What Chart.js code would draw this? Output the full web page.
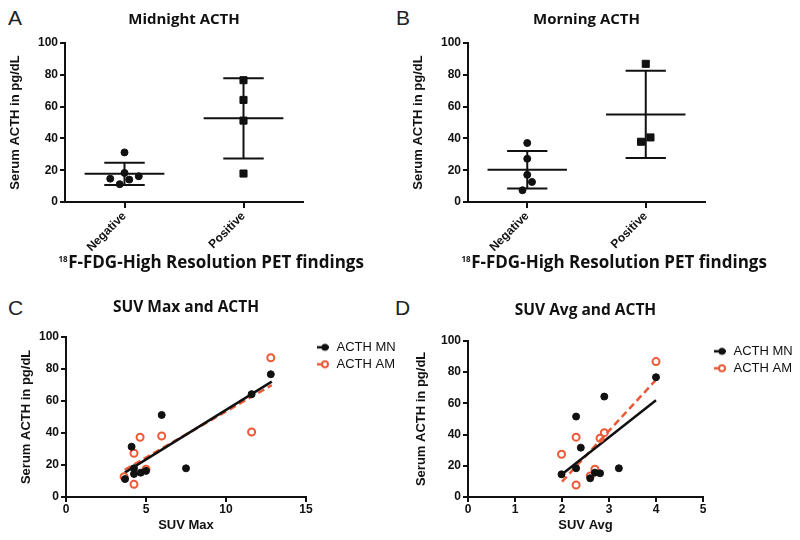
<!DOCTYPE html>
<html>
<head>
<meta charset="utf-8">
<script src="https://cdn.jsdelivr.net/npm/chart.js@4.4.1/dist/chart.umd.min.js"></script>
<style>
  body { margin: 0; background: #fff; width: 800px; height: 540px; position: relative; overflow: hidden; }
  .panel { position: absolute; }
  .letter { position: absolute; font: 21px/21px "Liberation Sans", Arial, sans-serif; color: #222; }
</style>
</head>
<body>
<div class="letter" style="left:8px;top:7px">A</div>
<div class="letter" style="left:396px;top:7px">B</div>
<div class="letter" style="left:8px;top:297px">C</div>
<div class="letter" style="left:395px;top:297px">D</div>

<canvas id="chartA" class="panel" width="400" height="280" style="left:0;top:0"></canvas>
<canvas id="chartB" class="panel" width="400" height="280" style="left:400px;top:0"></canvas>
<canvas id="chartC" class="panel" width="400" height="260" style="left:0;top:280px"></canvas>
<canvas id="chartD" class="panel" width="400" height="260" style="left:400px;top:280px"></canvas>

<script>
const groups = ["Negative", "Positive"];
const yTicks = [0, 20, 40, 60, 80, 100];
const suvMaxTicks = [0, 5, 10, 15];
const suvAvgTicks = [0, 1, 2, 3, 4, 5];
const seriesNames = ["ACTH MN", "ACTH AM"];
const petIsotope = "18";
const petLabel = "F-FDG-High Resolution PET findings";

// A - midnight ACTH (pg/dL) by PET finding
const midnightNeg = [31.2, 18.3, 16.2, 14.7, 14.1, 11.2];
const midnightNegJitter = [0, 0, 0.12, -0.12, 0.04, -0.04];
const midnightPos = [76.6, 64.2, 51.2, 17.9];
const midnightPosJitter = [0, 0, 0, 0];
const midnightMean = [17.7, 52.6];
const midnightSD = [7.0, 25.2];

// B - morning ACTH
const morningNeg = [37.1, 27.2, 17.1, 12.6, 7.4];
const morningNegJitter = [0, 0, 0, 0.04, -0.04];
const morningPos = [86.9, 37.9, 40.6];
const morningPosJitter = [0, -0.04, 0.04];
const morningMean = [20.3, 55.1];
const morningSD = [11.8, 27.5];

// C - SUV max vs ACTH
const suvMaxMN = [5.98, 4.1, 3.69, 4.25, 4.67, 5.0, 4.25, 11.6, 12.8, 7.5];
const acthMaxMN = [51.2, 31.4, 11.2, 14.4, 15.2, 16.3, 17.9, 64.2, 76.6, 17.9];
const suvMaxAM = [4.63, 5.98, 4.25, 4.25, 3.63, 5.0, 11.6, 12.8];
const acthMaxAM = [37.3, 38.1, 27.3, 7.9, 12.7, 17.3, 40.6, 86.9];
const fitMaxX = [3.67, 12.86];
const fitMaxMN = [15.2, 72];
const fitMaxAM = [17, 69.8];

// D - SUV avg vs ACTH
const suvAvgMN = [1.99, 2.3, 2.3, 2.4, 2.6, 2.7, 2.81, 2.9, 3.21, 4.0];
const acthAvgMN = [14.5, 18.4, 51.5, 31.6, 12.0, 15.6, 15.2, 64.3, 18.4, 76.7];
const suvAvgAM = [1.99, 2.3, 2.3, 2.6, 2.7, 2.81, 2.9, 4.0];
const acthAvgAM = [27.4, 38.3, 7.7, 13.5, 17.8, 37.6, 41.2, 86.7];
const fitAvgX = [2.0, 4.0];
const fitAvgMN = [14.5, 62];
const fitAvgAM = [9.8, 75];

const INK = "#111";
const ORANGE = "#EB5A37";
const AX = "'Liberation Sans', Arial, sans-serif";
const OS = "'Open Sans', sans-serif";
const MEAN_W = 0.335;
const CAP_W = 0.17;

// x-axis title with a real superscript; Chart.js squeezes long axis titles to the axis width
const petTitle = {
  id: "petTitle",
  afterDraw(chart, args, opts) {
    const s = chart.scales.x, ctx = chart.ctx;
    ctx.save();
    ctx.fillStyle = INK;
    ctx.textBaseline = "alphabetic";
    ctx.font = "bold 17px " + OS;
    const w = ctx.measureText(opts.text).width;
    const x0 = s.left + 151 - w / 2;
    const base = s.bottom - 9;
    ctx.fillText(opts.text, x0, base);
    ctx.font = "bold 8px " + OS;
    const ws = ctx.measureText(opts.sup).width;
    ctx.fillText(opts.sup, x0 - ws - 0.5, base - 6);
    ctx.restore();
  },
};

function yAxis(width, titlePad) {
  return {
    min: 0, max: 100,
    afterBuildTicks: s => { s.ticks = yTicks.map(v => ({ value: v })); },
    ticks: { font: { family: AX, size: 12, weight: "bold" }, color: INK, padding: 2 },
    grid: { drawOnChartArea: false, tickLength: 5, color: INK, lineWidth: 2 },
    border: { color: INK, width: 2 },
    title: { display: true, text: "Serum ACTH in pg/dL", color: INK,
      font: { family: AX, size: 13, weight: "bold" }, padding: { top: titlePad, bottom: 0 } },
    afterFit: s => { s.width = width; },
  };
}

function plotTitle(text, size, top, bottom) {
  return { display: true, text, fullSize: false, color: INK,
    font: { family: OS, size, weight: "bold" }, padding: { top, bottom } };
}

function seg(x0, x1, y0, y1) {
  return { data: [{ x: x0, y: y0 }, { x: x1, y: y1 }], showLine: true, pointRadius: 0,
    borderColor: INK, borderWidth: 2 };
}

function dotPlot(id, o) {
  const datasets = [
    { data: o.neg.map((v, i) => ({ x: 0 + o.negJitter[i], y: v })), pointStyle: "circle",
      pointRadius: 3.5, backgroundColor: INK, borderColor: INK, borderWidth: 1 },
    { data: o.pos.map((v, i) => ({ x: 1 + o.posJitter[i], y: v })), pointStyle: "rect",
      pointRadius: 5, backgroundColor: INK, borderColor: INK, borderWidth: 1 },
  ];
  o.mean.forEach((m, i) => {
    const sd = o.sd[i];
    datasets.push(seg(i - MEAN_W, i + MEAN_W, m, m));
    datasets.push(seg(i - CAP_W, i + CAP_W, m + sd, m + sd));
    datasets.push(seg(i - CAP_W, i + CAP_W, m - sd, m - sd));
    datasets.push(seg(i, i, m - sd, m + sd));
  });
  new Chart(document.getElementById(id), {
    type: "scatter",
    data: { datasets },
    plugins: [petTitle],
    options: {
      responsive: false, animation: false, events: [],
      layout: { padding: { left: 0, right: o.padRight, top: 0, bottom: 3 } },
      plugins: { legend: { display: false }, tooltip: { enabled: false },
        title: plotTitle(o.title, 15, 10.5, 14.5),
        petTitle: { sup: petIsotope, text: petLabel } },
      scales: {
        x: {
          type: "linear", min: -0.5, max: 1.5,
          afterBuildTicks: s => { s.ticks = groups.map((g, i) => ({ value: i })); },
          ticks: { callback: (v, i) => groups[i], minRotation: 45, maxRotation: 45,
            font: { family: AX, size: 12, weight: "bold" }, color: INK, padding: 1 },
          grid: { drawOnChartArea: false, tickLength: 6, color: INK, lineWidth: 2 },
          border: { color: INK, width: 2 },
          afterFit: s => { s.height = 75; },
        },
        y: yAxis(o.yWidth, o.yTitlePad),
      },
    },
  });
}

function legendMarker(color, dashed) {
  const c = document.createElement("canvas");
  c.width = 30; c.height = 12;
  const ctx = c.getContext("2d");
  ctx.strokeStyle = color; ctx.lineWidth = 2.5;
  ctx.beginPath();
  ctx.moveTo(12, 6); ctx.lineTo(dashed ? 17 : 24, 6);
  ctx.stroke();
  ctx.beginPath();
  ctx.arc(20, 6, dashed ? 3 : 3.5, 0, Math.PI * 2);
  if (dashed) { ctx.fillStyle = "#fff"; ctx.fill(); ctx.lineWidth = 2; ctx.stroke(); }
  else { ctx.fillStyle = color; ctx.fill(); }
  return c;
}
const markers = [legendMarker(INK, false), legendMarker(ORANGE, true)];

function suvPlot(id, o) {
  new Chart(document.getElementById(id), {
    type: "scatter",
    data: {
      datasets: [
        { label: seriesNames[0], data: o.xMN.map((x, i) => ({ x, y: o.yMN[i] })), pointStyle: "circle",
          pointRadius: 3.5, backgroundColor: INK, borderColor: INK, borderWidth: 1 },
        { label: seriesNames[1], data: o.xAM.map((x, i) => ({ x, y: o.yAM[i] })), pointStyle: "circle",
          pointRadius: 3.5, backgroundColor: "rgba(255,255,255,0)", borderColor: ORANGE, borderWidth: 2 },
        { data: o.fitX.map((x, i) => ({ x, y: o.fitMN[i] })), showLine: true, pointRadius: 0,
          borderColor: INK, borderWidth: 2.5 },
        { data: o.fitX.map((x, i) => ({ x, y: o.fitAM[i] })), showLine: true, pointRadius: 0,
          borderColor: ORANGE, borderWidth: 2.5, borderDash: [7, 4] },
      ],
    },
    options: {
      responsive: false, animation: false, events: [],
      layout: { padding: { left: 0, right: 0, top: 0, bottom: 3 } },
      plugins: {
        tooltip: { enabled: false },
        title: plotTitle(o.title, 15.5, o.titleTop, o.titleBottom),
        legend: {
          display: true, position: "right", align: "start", fullSize: false, maxWidth: o.legendWidth,
          labels: {
            usePointStyle: true, pointStyleWidth: 20, boxHeight: 13, padding: 4, color: INK,
            font: { family: AX, size: 13 },
            generateLabels: chart => chart.data.datasets.slice(0, 2).map((d, i) => ({
              text: d.label, pointStyle: markers[i], datasetIndex: i, hidden: false,
              lineWidth: 0, fontColor: INK, fillStyle: INK, strokeStyle: INK,
            })),
          },
        },
      },
      scales: {
        x: {
          type: "linear", min: o.ticks[0], max: o.ticks[o.ticks.length - 1],
          afterBuildTicks: s => { s.ticks = o.ticks.map(v => ({ value: v })); },
          ticks: { font: { family: AX, size: 12, weight: "bold" }, color: INK, padding: 0, maxRotation: 0 },
          grid: { drawOnChartArea: false, tickLength: 5, color: INK, lineWidth: 2 },
          border: { color: INK, width: 2 },
          title: { display: true, text: o.xTitle, color: INK,
            font: { family: AX, size: 13, weight: "bold" }, padding: { top: 0, bottom: 4 } },
          afterFit: s => { s.height = 40; },
        },
        y: yAxis(o.yWidth, o.yTitlePad),
      },
    },
  });
}

dotPlot("chartA", { title: "Midnight ACTH", neg: midnightNeg, negJitter: midnightNegJitter,
  pos: midnightPos, posJitter: midnightPosJitter, mean: midnightMean, sd: midnightSD,
  yWidth: 65, yTitlePad: 8, padRight: 97 });

dotPlot("chartB", { title: "Morning ACTH", neg: morningNeg, negJitter: morningNegJitter,
  pos: morningPos, posJitter: morningPosJitter, mean: morningMean, sd: morningSD,
  yWidth: 68, yTitlePad: 11, padRight: 95 });

suvPlot("chartC", { title: "SUV Max and ACTH", titleTop: 18, titleBottom: 20.2,
  xMN: suvMaxMN, yMN: acthMaxMN, xAM: suvMaxAM, yAM: acthMaxAM,
  fitX: fitMaxX, fitMN: fitMaxMN, fitAM: fitMaxAM, ticks: suvMaxTicks, xTitle: "SUV Max",
  yWidth: 66, yTitlePad: 19, legendWidth: 94 });

suvPlot("chartD", { title: "SUV Avg and ACTH", titleTop: 21, titleBottom: 21.2,
  xMN: suvAvgMN, yMN: acthAvgMN, xAM: suvAvgAM, yAM: acthAvgAM,
  fitX: fitAvgX, fitMN: fitAvgMN, fitAM: fitAvgAM, ticks: suvAvgTicks, xTitle: "SUV Avg",
  yWidth: 68, yTitlePad: 14, legendWidth: 97 });
</script>
</body>
</html>
